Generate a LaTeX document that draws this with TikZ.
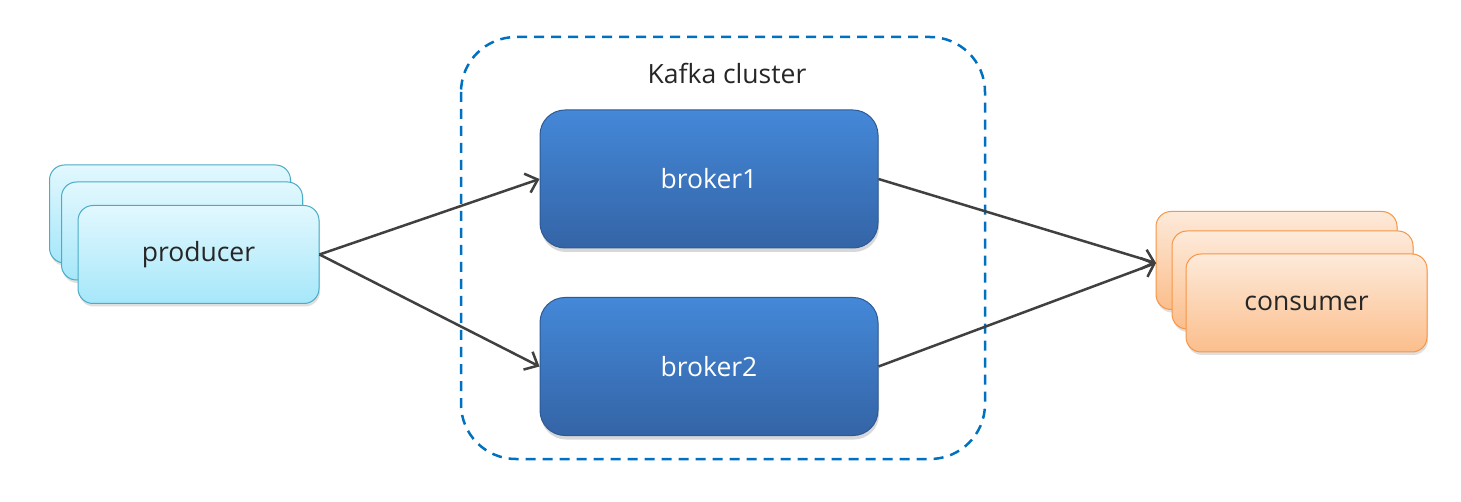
\documentclass[tikz,border=0pt]{standalone}
\usepackage{fontspec}
\setmainfont{Open Sans}
\usetikzlibrary{arrows.meta,shadows}

\definecolor{prodtop}{RGB}{226,248,254}
\definecolor{prodbot}{RGB}{166,231,250}
\definecolor{prodline}{RGB}{75,172,198}
\definecolor{constop}{RGB}{253,234,218}
\definecolor{consbot}{RGB}{251,190,140}
\definecolor{consline}{RGB}{247,150,70}
\definecolor{brktop}{RGB}{68,136,216}
\definecolor{brkbot}{RGB}{52,100,166}
\definecolor{brkline}{RGB}{45,90,150}
\definecolor{clusterblue}{RGB}{0,112,192}
\definecolor{arrowgray}{RGB}{64,64,64}
\definecolor{txtgray}{RGB}{38,38,38}

\tikzset{
  card/.style={rounded corners=15pt, minimum width=241pt, minimum height=98pt, inner sep=0pt,
    line width=1pt, drop shadow={shadow xshift=1pt, shadow yshift=-3pt, opacity=0.25},
    font=\fontsize{26.5}{30}\selectfont, text=txtgray},
  prod/.style={card, draw=prodline, top color=prodtop, bottom color=prodbot},
  cons/.style={card, draw=consline, top color=constop, bottom color=consbot},
  broker/.style={rounded corners=25pt, minimum width=338pt, minimum height=138pt, inner sep=0pt,
    draw=brkline, line width=1pt, top color=brktop, bottom color=brkbot, text=white,
    drop shadow={shadow xshift=1pt, shadow yshift=-4pt, opacity=0.3},
    font=\fontsize{26.5}{30}\selectfont},
  flow/.style={draw=arrowgray, line width=2.5pt, -{Straight Barb[length=11pt, width=20pt]}}
}

\begin{document}
\begin{tikzpicture}[x=1pt, y=-1pt]
\useasboundingbox[fill=white] (0,0) rectangle (1461,502);
% cluster frame
\draw[clusterblue, line width=2.5pt, dash pattern=on 10pt off 7pt, rounded corners=55pt] (461,37) rectangle (985,459);
\node[font=\fontsize{26.5}{30}\selectfont, text=txtgray] (title) at (727,73) {Kafka cluster};
% producers
\node[prod] (pback) at (170,214) {};
\node[prod] (pmid) at (182,231) {};
\node[prod] (prod) at (198.5,254.5) {producer};
% brokers
\node[broker] (b1) at (709,179) {broker1};
\node[broker] (b2) at (709,366.5) {broker2};
% consumers
\node[cons] (cback) at (1276.5,260.5) {};
\node[cons] (cmid) at (1292.5,280) {};
\node[cons] (cons) at (1306.5,303) {consumer};
\coordinate (cin) at (1156,263);
% connectors
\draw[flow] (prod.east) -- (b1.west);
\draw[flow] (prod.east) -- (b2.west);
\draw[flow] (b1.east) -- (cin);
\draw[flow] (b2.east) -- (cin);
\end{tikzpicture}
\end{document}
